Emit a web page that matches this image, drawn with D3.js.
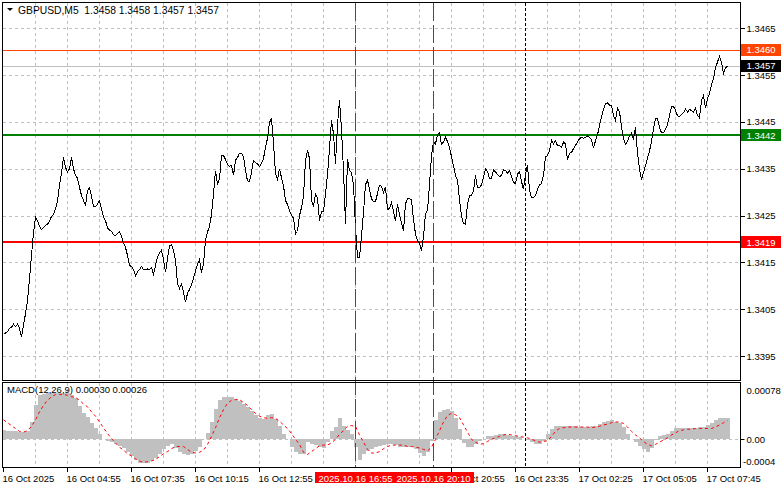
<!DOCTYPE html>
<html><head><meta charset="utf-8">
<script src="https://cdn.jsdelivr.net/npm/d3@7"></script>
<style>
body{margin:0;background:#fff;}
svg{display:block;}
text{font-family:"Liberation Sans",Arial,sans-serif;font-size:9.5px;}
</style>
</head><body>
<svg id="c" width="781" height="489"></svg>
<script>
// ---------------- DATA ----------------
const symbolName = "GBPUSD,M5";
const ohlc = [1.3458, 1.3458, 1.3457, 1.3457];
// M5 closes, one per bar (bar 0 = first bar on the left)
const closes = [
1.34000,1.34000,1.34003,1.34010,1.34012,1.34019,1.34014,1.34019,1.34010,1.33991,
1.34018,1.34041,1.34070,1.34116,1.34166,1.34215,1.34247,1.34240,1.34228,1.34221,
1.34225,1.34230,1.34232,1.34240,1.34249,1.34254,1.34266,1.34281,1.34317,1.34341,
1.34375,1.34354,1.34344,1.34351,1.34375,1.34351,1.34337,1.34331,1.34311,1.34294,
1.34284,1.34272,1.34304,1.34311,1.34292,1.34271,1.34270,1.34275,1.34283,1.34265,
1.34247,1.34240,1.34225,1.34220,1.34217,1.34210,1.34208,1.34213,1.34217,1.34206,
1.34192,1.34183,1.34166,1.34145,1.34142,1.34136,1.34123,1.34131,1.34136,1.34142,
1.34136,1.34136,1.34137,1.34135,1.34140,1.34126,1.34144,1.34163,1.34171,1.34177,
1.34157,1.34130,1.34159,1.34187,1.34189,1.34176,1.34155,1.34106,1.34095,1.34105,
1.34088,1.34066,1.34085,1.34093,1.34103,1.34117,1.34133,1.34146,1.34157,1.34129,
1.34148,1.34198,1.34216,1.34228,1.34253,1.34298,1.34347,1.34317,1.34330,1.34379,
1.34379,1.34371,1.34360,1.34356,1.34358,1.34337,1.34369,1.34375,1.34384,1.34384,
1.34377,1.34347,1.34325,1.34324,1.34343,1.34369,1.34364,1.34361,1.34356,1.34362,
1.34373,1.34397,1.34416,1.34450,1.34458,1.34407,1.34340,1.34328,1.34351,1.34332,
1.34315,1.34283,1.34275,1.34262,1.34252,1.34245,1.34212,1.34217,1.34251,1.34268,
1.34292,1.34369,1.34390,1.34373,1.34283,1.34272,1.34297,1.34289,1.34240,1.34260,
1.34260,1.34297,1.34339,1.34394,1.34454,1.34426,1.34362,1.34445,1.34497,1.34435,
1.34347,1.34233,1.34371,1.34347,1.34343,1.34317,1.34226,1.34162,1.34162,1.34208,
1.34257,1.34317,1.34327,1.34306,1.34287,1.34281,1.34281,1.34298,1.34316,1.34313,
1.34301,1.34312,1.34264,1.34266,1.34279,1.34260,1.34240,1.34275,1.34253,1.34236,
1.34219,1.34276,1.34287,1.34287,1.34285,1.34242,1.34212,1.34197,1.34192,1.34176,
1.34206,1.34255,1.34262,1.34317,1.34379,1.34409,1.34404,1.34424,1.34428,1.34403,
1.34408,1.34418,1.34409,1.34396,1.34377,1.34357,1.34337,1.34326,1.34285,1.34251,
1.34234,1.34233,1.34275,1.34294,1.34294,1.34303,1.34337,1.34310,1.34311,1.34317,
1.34333,1.34351,1.34345,1.34330,1.34330,1.34348,1.34344,1.34339,1.34334,1.34337,
1.34349,1.34347,1.34342,1.34347,1.34334,1.34322,1.34319,1.34339,1.34345,1.34324,
1.34307,1.34340,1.34358,1.34306,1.34289,1.34289,1.34294,1.34307,1.34316,1.34320,
1.34337,1.34376,1.34379,1.34390,1.34412,1.34404,1.34411,1.34400,1.34401,1.34396,
1.34408,1.34404,1.34370,1.34384,1.34386,1.34394,1.34401,1.34408,1.34415,1.34418,
1.34416,1.34418,1.34421,1.34418,1.34413,1.34395,1.34411,1.34423,1.34444,1.34462,
1.34478,1.34490,1.34492,1.34487,1.34486,1.34465,1.34454,1.34480,1.34473,1.34441,
1.34415,1.34404,1.34409,1.34421,1.34427,1.34415,1.34440,1.34385,1.34351,1.34328,
1.34343,1.34358,1.34374,1.34389,1.34409,1.34436,1.34458,1.34459,1.34439,1.34428,
1.34428,1.34436,1.34445,1.34465,1.34484,1.34484,1.34476,1.34464,1.34463,1.34467,
1.34471,1.34479,1.34472,1.34478,1.34475,1.34471,1.34481,1.34465,1.34460,1.34497,
1.34507,1.34480,1.34501,1.34512,1.34531,1.34543,1.34567,1.34579,1.34591,1.34578,
1.34555,1.34567,1.34570
];
// MACD main (histogram) and signal, one value per two bars
const macdMain = [
0.00013,0.00012,0.00011,0.00011,0.00010,0.00010,0.00011,0.00024,0.00048,0.00061,
0.00063,0.00064,0.00064,0.00064,0.00064,0.00064,0.00064,0.00062,0.00057,0.00046,
0.00036,0.00031,0.00023,0.00016,0.00008,0.00001,-0.00002,-0.00004,-0.00007,-0.00009,
-0.00012,-0.00018,-0.00023,-0.00029,-0.00033,-0.00033,-0.00033,-0.00030,-0.00026,-0.00020,
-0.00013,-0.00009,-0.00007,-0.00012,-0.00017,-0.00020,-0.00022,-0.00020,-0.00016,-0.00010,
0.00000,0.00009,0.00024,0.00042,0.00055,0.00059,0.00059,0.00059,0.00056,0.00053,
0.00049,0.00045,0.00039,0.00034,0.00029,0.00028,0.00034,0.00035,0.00028,0.00018,
0.00007,0.00000,-0.00010,-0.00018,-0.00020,-0.00021,-0.00004,-0.00007,-0.00008,-0.00010,
-0.00012,-0.00004,0.00011,0.00017,0.00030,0.00018,0.00013,0.00007,-0.00010,-0.00028,
-0.00020,-0.00016,-0.00014,-0.00011,-0.00009,-0.00008,-0.00006,-0.00007,-0.00008,-0.00010,
-0.00010,-0.00010,-0.00011,-0.00014,-0.00019,-0.00023,-0.00018,-0.00003,0.00027,0.00038,
0.00041,0.00042,0.00039,0.00029,0.00014,-0.00005,-0.00010,-0.00011,-0.00006,-0.00002,
0.00001,0.00004,0.00005,0.00006,0.00007,0.00007,0.00006,0.00005,0.00004,0.00003,
0.00001,-0.00001,-0.00004,-0.00006,-0.00006,-0.00002,0.00007,0.00014,0.00018,0.00019,
0.00019,0.00019,0.00018,0.00018,0.00017,0.00017,0.00017,0.00019,0.00019,0.00021,
0.00024,0.00026,0.00027,0.00024,0.00023,0.00017,0.00008,0.00000,-0.00004,-0.00009,
-0.00014,-0.00017,-0.00012,-0.00001,0.00004,0.00006,0.00008,0.00012,0.00015,0.00015,
0.00015,0.00015,0.00015,0.00016,0.00017,0.00017,0.00020,0.00023,0.00027,0.00029,
0.00030,0.00030
];
const macdSignal = [
0.00027,0.00023,0.00019,0.00015,0.00011,0.00010,0.00012,0.00018,0.00027,0.00038,
0.00047,0.00054,0.00059,0.00062,0.00062,0.00062,0.00061,0.00059,0.00058,0.00054,
0.00049,0.00045,0.00038,0.00032,0.00024,0.00016,0.00008,0.00001,-0.00005,-0.00011,
-0.00015,-0.00020,-0.00023,-0.00027,-0.00030,-0.00032,-0.00031,-0.00030,-0.00028,-0.00024,
-0.00020,-0.00017,-0.00013,-0.00010,-0.00010,-0.00010,-0.00014,-0.00018,-0.00019,-0.00018,
-0.00015,-0.00007,0.00004,0.00016,0.00030,0.00041,0.00050,0.00054,0.00055,0.00055,
0.00051,0.00047,0.00041,0.00036,0.00032,0.00030,0.00029,0.00030,0.00029,0.00025,
0.00020,0.00015,0.00008,0.00000,-0.00007,-0.00018,-0.00021,-0.00017,-0.00013,-0.00009,
-0.00008,-0.00008,-0.00005,0.00000,0.00007,0.00012,0.00018,0.00019,0.00018,0.00006,
-0.00004,-0.00014,-0.00019,-0.00019,-0.00017,-0.00013,-0.00010,-0.00008,-0.00008,-0.00008,
-0.00008,-0.00010,-0.00010,-0.00011,-0.00012,-0.00014,-0.00016,-0.00011,0.00000,0.00012,
0.00024,0.00033,0.00036,0.00034,0.00030,0.00020,0.00010,0.00000,-0.00004,-0.00007,
-0.00006,-0.00003,0.00000,0.00002,0.00004,0.00006,0.00007,0.00006,0.00005,0.00004,
0.00003,0.00002,0.00000,-0.00002,-0.00004,-0.00003,-0.00002,0.00004,0.00011,0.00015,
0.00016,0.00017,0.00017,0.00017,0.00017,0.00017,0.00017,0.00016,0.00017,0.00018,
0.00020,0.00021,0.00023,0.00024,0.00024,0.00022,0.00017,0.00011,0.00006,0.00002,
-0.00003,-0.00007,-0.00009,-0.00007,-0.00004,-0.00001,0.00002,0.00006,0.00009,0.00012,
0.00013,0.00014,0.00014,0.00015,0.00015,0.00015,0.00015,0.00015,0.00017,0.00020,
0.00023,0.00026
];
const macdParams = [12, 26, 9];
const macdLast = [0.00030, 0.00026];
const priceTicks = [1.3395, 1.3405, 1.3415, 1.3425, 1.3435, 1.3445, 1.3455, 1.3465];
const levelPrices = [1.34604, 1.34422, 1.34193];
const bidPrice = 1.3457;
const macdAxisLabels = ["0.00078", "0.00", "-0.0004"];
const macdAxisValues = [0.00078, 0, -0.0004];
// time labels that are visible (others are covered by the marker boxes)
const timeLabels = ["16 Oct 2025","16 Oct 04:55","16 Oct 07:35","16 Oct 10:15","16 Oct 12:55",
  "16 Oct 20:55","16 Oct 23:35","17 Oct 02:25","17 Oct 05:05","17 Oct 07:45"];
const timeLabelBars = [0,32,64,96,128,224,256,288,320,352];
const markerBars = [176, 215];
const markerLabels = ["2025.10.16 16:55", "2025.10.16 20:10"];
const daySeparatorBar = 261;

// ---------------- LAYOUT ----------------
const L = 2.5, R = 740.5, T = 2.5, MB = 380.5, MT = 382.5, BB = 467.5;
const levelColors = ["#ff4500", "#008000", "#ff0000"];
const levelWidths = [1, 2, 2];
const gridColor = "#c0c0c0";

const svg = d3.select("#c");
const x = d3.scaleLinear().domain([0, closes.length - 1]).range([3, 727]);
const y = d3.scaleLinear().domain([1.3395, 1.3465]).range([356, 28.3]);
const ym = d3.scaleLinear().domain([0, 0.00078]).range([439.3, 383]);
const px = v => Math.round(v) + 0.5;
const fmt4 = d3.format(".4f"), fmt5 = d3.format(".5f");

const defs = svg.append("defs");
defs.append("clipPath").attr("id", "cm").append("rect").attr("x", L).attr("y", T).attr("width", R - L).attr("height", MB - T);
defs.append("clipPath").attr("id", "cd").append("rect").attr("x", L).attr("y", MT).attr("width", R - L).attr("height", BB - MT);

const main = svg.append("g").attr("clip-path", "url(#cm)");
const sub = svg.append("g").attr("clip-path", "url(#cd)");

// grid verticals
const gridBars = d3.range(16, 400, 16).filter(b => x(b) < 738);
[[main, T, MB], [sub, MT, BB]].forEach(([g, y1, y2]) => {
  g.selectAll(null).data(gridBars).join("line")
    .attr("x1", b => px(x(b))).attr("x2", b => px(x(b)))
    .attr("y1", y1).attr("y2", y2)
    .attr("stroke", gridColor).attr("stroke-dasharray", "3,3").attr("shape-rendering", "crispEdges");
});
// grid horizontals
main.selectAll(null).data(priceTicks).join("line")
  .attr("x1", L).attr("x2", R).attr("y1", d => px(y(d))).attr("y2", d => px(y(d)))
  .attr("stroke", gridColor).attr("stroke-dasharray", "3,3").attr("shape-rendering", "crispEdges");
sub.append("line").attr("x1", L).attr("x2", R).attr("y1", px(ym(0))).attr("y2", px(ym(0)))
  .attr("stroke", gridColor).attr("stroke-dasharray", "3,3").attr("shape-rendering", "crispEdges");

// bid line
main.append("line").attr("x1", L).attr("x2", R).attr("y1", px(y(bidPrice))).attr("y2", px(y(bidPrice)))
  .attr("stroke", "#c0c0c0").attr("shape-rendering", "crispEdges");
// level lines
levelPrices.forEach((p, i) => {
  const yy = levelWidths[i] === 2 ? Math.round(y(p)) : px(y(p));
  main.append("line").attr("x1", L).attr("x2", R).attr("y1", yy).attr("y2", yy)
    .attr("stroke", levelColors[i]).attr("stroke-width", levelWidths[i]).attr("shape-rendering", "crispEdges");
});

// price line
main.append("path").datum(closes)
  .attr("d", d3.line().x((d, i) => x(i) + 0.5).y(d => y(d) + 0.5))
  .attr("fill", "none").attr("stroke", "#000").attr("stroke-width", 1).attr("shape-rendering", "crispEdges");

// MACD histogram
sub.selectAll(null).data(macdMain).join("rect")
  .attr("x", (d, k) => x(2 * k) - 1).attr("width", 4)
  .attr("y", d => Math.min(ym(d), ym(0))).attr("height", d => Math.abs(ym(d) - ym(0)))
  .attr("fill", "#c0c0c0").attr("shape-rendering", "crispEdges");
// signal
sub.append("path").datum(macdSignal)
  .attr("d", d3.line().x((d, k) => x(2 * k) + 0.5).y(d => ym(d)))
  .attr("fill", "none").attr("stroke", "#ff0000").attr("stroke-width", 1).attr("stroke-dasharray", "3,3");

// vertical markers
markerBars.forEach(b => {
  svg.append("line").attr("x1", px(x(b))).attr("x2", px(x(b))).attr("y1", T).attr("y2", BB)
    .attr("stroke", "#ff0000").attr("stroke-dasharray", "18,4").attr("shape-rendering", "crispEdges");
});
svg.append("line").attr("x1", px(x(daySeparatorBar))).attr("x2", px(x(daySeparatorBar))).attr("y1", T).attr("y2", BB)
  .attr("stroke", "#000").attr("stroke-dasharray", "3,2").attr("shape-rendering", "crispEdges");

// panel borders
[[T, MB], [MT, BB]].forEach(([a, b]) => {
  svg.append("rect").attr("x", L).attr("y", a).attr("width", R - L).attr("height", b - a)
    .attr("fill", "none").attr("stroke", "#000").attr("shape-rendering", "crispEdges");
});

// title
svg.append("path").attr("d", "M7,8L13,8L10,11Z").attr("fill", "#000");
svg.append("text").attr("x", 18).attr("y", 13.5).attr("fill", "#000")
  .style("font-size", "10.3px").style("white-space", "pre")
  .text(symbolName + "  " + ohlc.map(fmt4).join(" "));
svg.append("text").attr("x", 7).attr("y", 393).attr("fill", "#000")
  .text("MACD(" + macdParams.join(",") + ") " + macdLast.map(fmt5).join(" "));

// right price axis
priceTicks.forEach(p => {
  const yy = px(y(p));
  svg.append("line").attr("x1", R).attr("x2", R + 4).attr("y1", yy).attr("y2", yy).attr("stroke", "#000").attr("shape-rendering", "crispEdges");
  svg.append("text").attr("x", 746.5).attr("y", y(p) + 3.5).attr("fill", "#000").text(fmt4(p));
});
// level label boxes
const boxes = [[levelPrices[0], levelColors[0]], [bidPrice, "#000"], [levelPrices[1], levelColors[1]], [levelPrices[2], levelColors[2]]];
boxes.forEach(([p, c]) => {
  const yy = y(p);
  svg.append("rect").attr("x", 741).attr("y", Math.round(yy) - 6).attr("width", 40).attr("height", 12).attr("fill", c);
  svg.append("text").attr("x", 746.5).attr("y", yy + 3.5).attr("fill", "#fff").text(fmt4(p));
});

// MACD axis
const macdLabelY = [ym.range()[1] + 7, ym(0), BB - 6];
macdAxisLabels.forEach((t, i) => {
  svg.append("text").attr("x", macdAxisValues[i] < 0 ? 743 : 746.5).attr("y", macdLabelY[i] + 3.5).attr("fill", "#000").text(t);
});
svg.append("line").attr("x1", R).attr("x2", R + 4).attr("y1", px(ym(0))).attr("y2", px(ym(0))).attr("stroke", "#000");

// time axis (labels partly covered by the marker boxes are clipped at the box edge)
const markerRight = x(markerBars[markerBars.length - 1]) + 0.5 + 40.5;
defs.append("clipPath").attr("id", "ct").append("rect").attr("x", markerRight).attr("y", 468).attr("width", 781 - markerRight).attr("height", 21);
timeLabelBars.forEach((b, i) => {
  svg.append("line").attr("x1", px(x(b))).attr("x2", px(x(b))).attr("y1", BB).attr("y2", BB + 4).attr("stroke", "#000").attr("shape-rendering", "crispEdges");
  const t = svg.append("text").attr("x", x(b) - 0.5).attr("y", 481.5).attr("fill", "#000").text(timeLabels[i]);
  if (x(b) < markerRight && x(b) > x(markerBars[0]) - 40) t.attr("clip-path", "url(#ct)");
});
markerBars.forEach((b, i) => {
  const cx = x(b) + 0.5;
  svg.append("rect").attr("x", cx - 40.5).attr("y", 472).attr("width", 81).attr("height", 11).attr("fill", "#ff0000");
  svg.append("text").attr("x", cx).attr("y", 481.5).attr("text-anchor", "middle").attr("fill", "#fff").text(markerLabels[i]);
});
</script>
</body></html>
